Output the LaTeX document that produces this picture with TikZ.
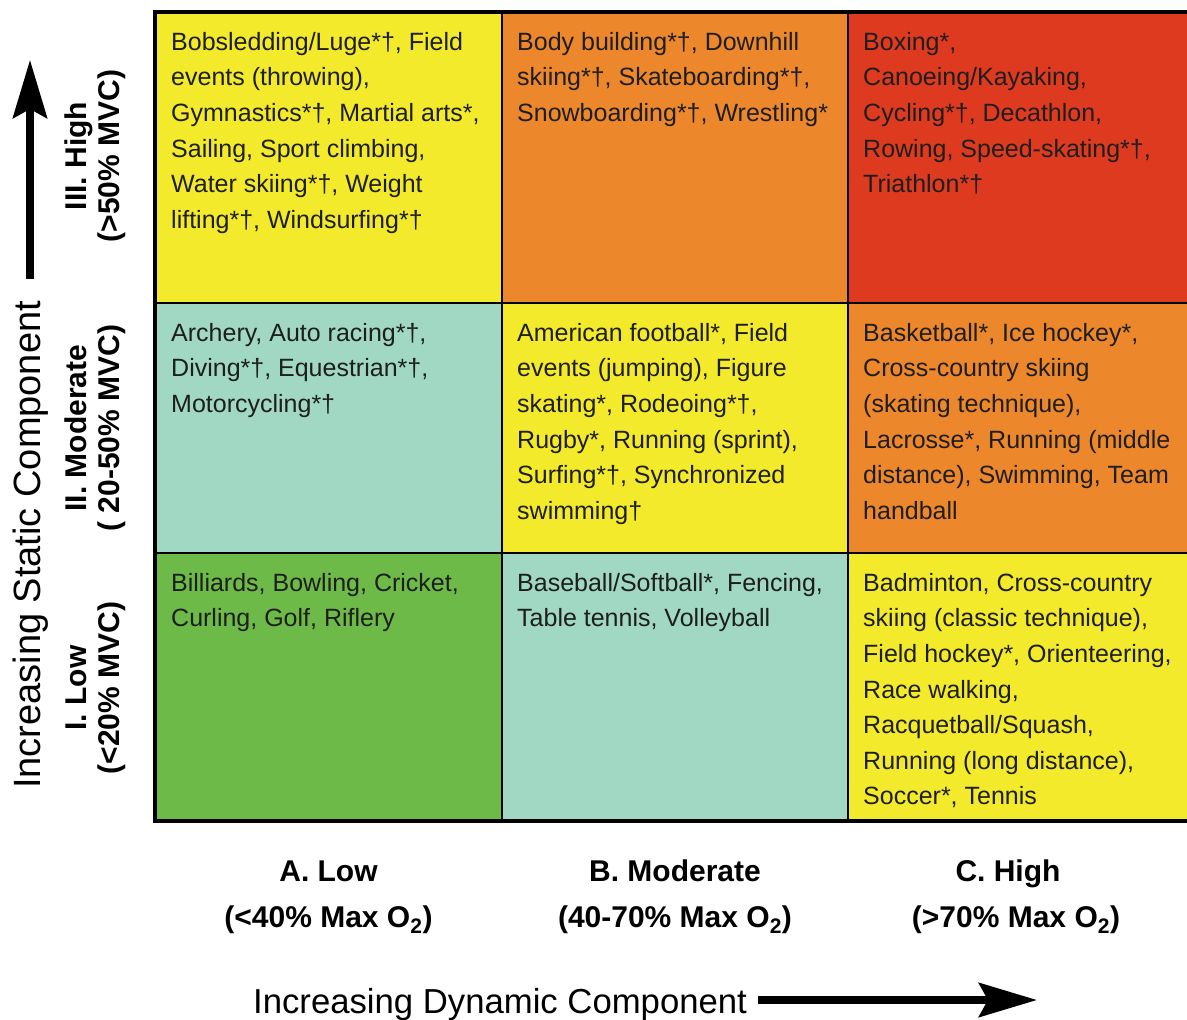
\documentclass[tikz,border=0pt]{standalone}
\usepackage{fontspec}
\setmainfont{Liberation Sans}
\usetikzlibrary{arrows.meta}
\definecolor{cyel}{RGB}{242,234,42}
\definecolor{corg}{RGB}{236,135,44}
\definecolor{cred}{RGB}{222,58,32}
\definecolor{cteal}{RGB}{160,216,196}
\definecolor{cgrn}{RGB}{110,186,72}
\definecolor{ctxt}{RGB}{30,30,30}
\newcommand{\cellstrut}{\rule{0pt}{25pt}}
\begin{document}
\begin{tikzpicture}[x=1pt,y=-1pt,
  celltext/.style={anchor=north west, inner sep=0pt, align=left, text=ctxt,
    font=\fontsize{25}{35.6}\selectfont},
  boldlbl/.style={inner sep=0pt, font=\fontsize{30}{36}\selectfont\bfseries},
  bigarrow/.style={line width=7.5pt, -{Stealth[length=58pt,width=34pt,inset=9pt]}},
  outer/.style={line width=4.5pt},
  inner/.style={line width=2.5pt}]
\clip (0,0) rectangle (1187,1020);
\fill[white] (0,0) rectangle (1187,1020);
% cells
\fill[cyel]  (155,12)  rectangle (502,303);
\fill[corg]  (502,12)  rectangle (848,303);
\fill[cred]  (848,12)  rectangle (1195,303);
\fill[cteal] (155,303) rectangle (502,553);
\fill[cyel]  (502,303) rectangle (848,553);
\fill[corg]  (848,303) rectangle (1195,553);
\fill[cgrn]  (155,553) rectangle (502,821);
\fill[cteal] (502,553) rectangle (848,821);
\fill[cyel]  (848,553) rectangle (1195,821);
% grid lines
\draw[inner] (502,12) -- (502,821);
\draw[inner] (848,12) -- (848,821);
\draw[inner] (155,303) -- (1195,303);
\draw[inner] (155,553) -- (1195,553);
\draw[outer] (1195,12) -- (155,12) -- (155,821) -- (1195,821);
% cell texts
\node[celltext] (a3) at (171,25) {\cellstrut Bobsledding/Luge*†, Field\\events (throwing),\\Gymnastics*†, Martial arts*,\\Sailing, Sport climbing,\\Water skiing*†, Weight\\lifting*†, Windsurfing*†};
\node[celltext] (b3) at (517,25) {\cellstrut Body building*†, Downhill\\skiing*†, Skateboarding*†,\\Snowboarding*†, Wrestling*};
\node[celltext] (c3) at (863,25) {\cellstrut Boxing*,\\Canoeing/Kayaking,\\Cycling*†, Decathlon,\\Rowing, Speed-skating*†,\\Triathlon*†};
\node[celltext] (a2) at (171,316) {\cellstrut Archery, Auto racing*†,\\Diving*†, Equestrian*†,\\Motorcycling*†};
\node[celltext] (b2) at (517,316) {\cellstrut American football*, Field\\events (jumping), Figure\\skating*, Rodeoing*†,\\Rugby*, Running (sprint),\\Surfing*†, Synchronized\\swimming†};
\node[celltext] (c2) at (863,316) {\cellstrut Basketball*, Ice hockey*,\\Cross-country skiing\\(skating technique),\\Lacrosse*, Running (middle\\distance), Swimming, Team\\handball};
\node[celltext] (a1) at (171,566) {\cellstrut Billiards, Bowling, Cricket,\\Curling, Golf, Riflery};
\node[celltext] (b1) at (517,566) {\cellstrut Baseball/Softball*, Fencing,\\Table tennis, Volleyball};
\node[celltext] (c1) at (863,566) {\cellstrut Badminton, Cross-country\\skiing (classic technique),\\Field hockey*, Orienteering,\\Race walking,\\Racquetball/Squash,\\Running (long distance),\\Soccer*, Tennis};
% row labels (rotated)
\node[boldlbl, rotate=90, anchor=base] (r3a) at (86,156) {III. High};
\node[boldlbl, rotate=90, anchor=base] (r3b) at (119,156) {(>50\% MVC)};
\node[boldlbl, rotate=90, anchor=base] (r2a) at (86,428) {II. Moderate};
\node[boldlbl, rotate=90, anchor=base] (r2b) at (119,428) {( 20-50\% MVC)};
\node[boldlbl, rotate=90, anchor=base] (r1a) at (86,688) {I. Low};
\node[boldlbl, rotate=90, anchor=base] (r1b) at (119,688) {(<20\% MVC)};
% column labels
\node[boldlbl, anchor=base] (ca1) at (328.5,881) {A. Low};
\node[boldlbl, anchor=base] (ca2) at (328.5,927) {(<40\% Max O\textsubscript{2})};
\node[boldlbl, anchor=base] (cb1) at (675,881) {B. Moderate};
\node[boldlbl, anchor=base] (cb2) at (675,927) {(40-70\% Max O\textsubscript{2})};
\node[boldlbl, anchor=base] (cc1) at (1008,881) {C. High};
\node[boldlbl, anchor=base] (cc2) at (1016,927) {(>70\% Max O\textsubscript{2})};
% axis titles
\node[inner sep=0pt, font=\fontsize{38}{42}\selectfont, rotate=90, anchor=base] (ystat) at (40,545) {Increasing Static Component};
\node[inner sep=0pt, font=\fontsize{34.7}{40}\selectfont, anchor=base west] (xdyn) at (253,1013) {Increasing Dynamic Component};
% axis arrows
\coordinate (va0) at (30,279);
\coordinate (va1) at (30,60);
\draw[bigarrow] (va0) -- (va1);
\coordinate (ha0) at (758,1000);
\coordinate (ha1) at (1037,1000);
\draw[bigarrow] (ha0) -- (ha1);
\end{tikzpicture}
\end{document}
